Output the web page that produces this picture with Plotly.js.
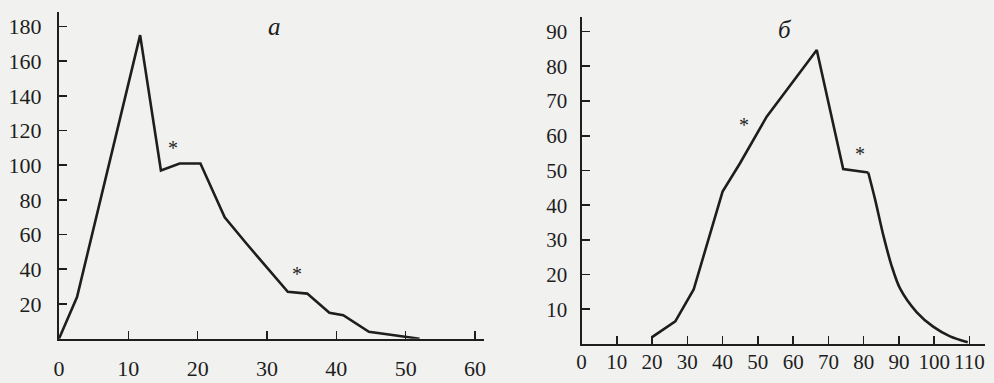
<!DOCTYPE html>
<html>
<head>
<meta charset="utf-8">
<script src="https://cdn.plot.ly/plotly-3.0.1.min.js"></script>
<style>
html,body{margin:0;padding:0;background:#f1f1ef;}
#chart{width:994px;height:383px;}
</style>
</head>
<body>
<div id="chart"></div>
<script>
// Panel а
const xA = [0, 2.6, 11.7, 14.7, 17.4, 20.4, 23.9, 27, 33, 35.8, 39, 41, 44.7, 49, 52];
const yA = [0, 24, 175, 97, 101, 101, 70, 55, 27, 26, 15, 13.5, 4, 1.5, 0];
const xTicksA = [0, 10, 20, 30, 40, 50, 60];
const yTicksA = [20, 40, 60, 80, 100, 120, 140, 160, 180];
const starsA = [[16.5, 110], [34.3, 37.5]];

// Panel б (rising part with sharp corners, then smooth falling tail)
const xB = [20, 26.6, 31.8, 40, 44.9, 52.5, 66.7, 74.2, 81.3];
const yB = [2, 6.5, 15.7, 43.9, 52, 65.5, 84.7, 50.4, 49.4];
const xBTail = [81.3, 83.2, 85.6, 87.9, 90.3, 95, 99.7, 104.5, 109.5];
const yBTail = [49.4, 41.8, 31.2, 22.6, 16, 9.2, 5, 2.2, 0.5];
const xTicksB = [0, 10, 20, 30, 40, 50, 60, 70, 80, 90, 100, 110];
const yTicksB = [10, 20, 30, 40, 50, 60, 70, 80, 90];
const starsB = [[46.2, 63], [79, 54.8]];

const ink = '#1e1e1e';
const serif = 'Liberation Serif, DejaVu Serif, serif';

const traces = [
  {x: xA, y: yA, xaxis: 'x', yaxis: 'y', mode: 'lines', line: {color: ink, width: 2.6}, hoverinfo: 'skip'},
  {x: xB, y: yB, xaxis: 'x2', yaxis: 'y2', mode: 'lines', line: {color: ink, width: 2.6}, hoverinfo: 'skip'},
  {x: xBTail, y: yBTail, xaxis: 'x2', yaxis: 'y2', mode: 'lines', line: {color: ink, width: 2.6, shape: 'spline', smoothing: 0.8}, hoverinfo: 'skip'}
];

function axisCommon(extra) {
  return Object.assign({
    showgrid: false, zeroline: false, showline: true, linecolor: ink, linewidth: 2,
    ticks: 'inside', ticklen: 8, tickwidth: 1.6, tickcolor: ink,
    tickmode: 'array', tickfont: {family: serif, size: 22, color: ink},
    fixedrange: true
  }, extra);
}

const W = 994, H = 383;
const fontB = {family: serif, size: 21, color: ink};
const layout = {
  width: W, height: H,
  margin: {l: 0, r: 0, t: 0, b: 0},
  font: {family: serif, size: 22, color: ink},
  paper_bgcolor: '#f1f1ef', plot_bgcolor: 'rgba(0,0,0,0)',
  showlegend: false,
  xaxis: axisCommon({domain: [59 / W, 484 / W], range: [0, 61.3], tickvals: xTicksA, ticktext: xTicksA.map(String), anchor: 'y', ticklabelstandoff: 9}),
  yaxis: axisCommon({domain: [(H - 338.7) / H, (H - 12) / H], range: [0, 188.3], tickvals: yTicksA, ticktext: yTicksA.map(v => v + '\u2002'), anchor: 'x'}),
  xaxis2: axisCommon({domain: [581.5 / W, 985 / W], range: [0, 114.4], tickvals: xTicksB, ticktext: xTicksB.map(String), anchor: 'y2', ticklabelstandoff: -2, tickfont: fontB}),
  yaxis2: axisCommon({domain: [(H - 344) / H, (H - 17) / H], range: [0, 94.2], tickvals: yTicksB, ticktext: yTicksB.map(String), anchor: 'x2', ticklabelstandoff: 8, tickfont: fontB}),
  annotations: []
};

starsA.forEach(p => layout.annotations.push({x: p[0], y: p[1], xref: 'x', yref: 'y', text: '*', showarrow: false, font: {family: serif, size: 20, color: ink}}));
starsB.forEach(p => layout.annotations.push({x: p[0], y: p[1], xref: 'x2', yref: 'y2', text: '*', showarrow: false, font: {family: serif, size: 20, color: ink}}));
layout.annotations.push({x: 31.1, y: 180, xref: 'x', yref: 'y', text: '<i>а</i>', showarrow: false, font: {family: serif, size: 25, color: ink}});
layout.annotations.push({x: 57.7, y: 90.5, xref: 'x2', yref: 'y2', text: '<i>б</i>', showarrow: false, font: {family: serif, size: 25, color: ink}});

Plotly.newPlot('chart', traces, layout, {displayModeBar: false, staticPlot: true});
</script>
</body>
</html>
